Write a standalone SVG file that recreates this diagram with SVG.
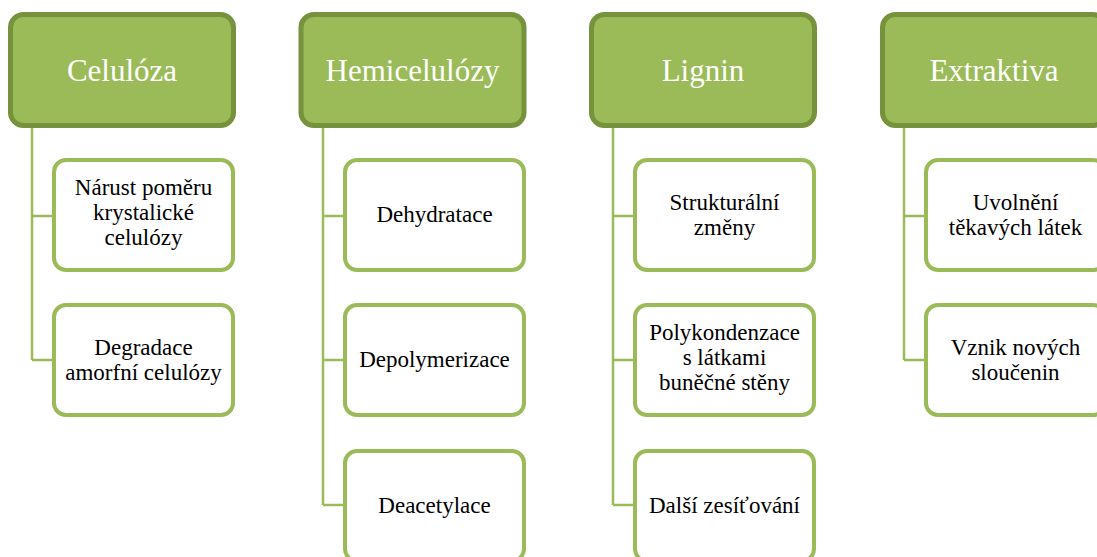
<svg xmlns="http://www.w3.org/2000/svg" width="1097" height="557" viewBox="0 0 1097 557">
<style>
.hdr{fill:#9BBB59;stroke:#76923C;stroke-width:5}
.chd{fill:#FFFFFF;stroke:#9BBB59;stroke-width:4}
.ht{font-family:"Liberation Serif","Times New Roman",serif;font-size:31px;fill:#FFFFFF;text-anchor:middle}
.ct{font-family:"Liberation Serif","Times New Roman",serif;font-size:23px;fill:#000000;text-anchor:middle}
.con{fill:none;stroke:#9BBB59;stroke-width:2.5}
</style>
<rect width="1097" height="557" fill="#FFFFFF"/>
<g id="connectors">
<path class="con" d="M32,126 V360 M32,216 H54 M32,360 H54"/>
<path class="con" d="M323,126 V505 M323,216 H345 M323,360 H345 M323,505 H345"/>
<path class="con" d="M613,126 V505 M613,216 H635 M613,360 H635 M613,505 H635"/>
<path class="con" d="M904,126 V360 M904,216 H926 M904,360 H926"/>
</g>
<g id="celuloza">
<rect class="hdr" x="10.5" y="14.5" width="223" height="111" rx="13"/>
<text class="ht" x="122" y="81">Celulóza</text>
</g>
<g id="c1">
<rect class="chd" x="54" y="160" width="179" height="110" rx="12"/>
<text class="ct" x="143.5" y="195">Nárust poměru</text>
<text class="ct" x="143.5" y="220">krystalické</text>
<text class="ct" x="143.5" y="245">celulózy</text>
</g>
<g id="c2">
<rect class="chd" x="54" y="305" width="179" height="110" rx="12"/>
<text class="ct" x="143.5" y="355">Degradace</text>
<text class="ct" x="143.5" y="380">amorfní celulózy</text>
</g>
<g id="hemicelulozy">
<rect class="hdr" x="301" y="14.5" width="223" height="111" rx="13"/>
<text class="ht" x="412.5" y="81">Hemicelulózy</text>
</g>
<g id="h1">
<rect class="chd" x="345" y="160" width="179" height="110" rx="12"/>
<text class="ct" x="434.5" y="222">Dehydratace</text>
</g>
<g id="h2">
<rect class="chd" x="345" y="305" width="179" height="110" rx="12"/>
<text class="ct" x="434.5" y="367">Depolymerizace</text>
</g>
<g id="h3">
<rect class="chd" x="345" y="451" width="179" height="110" rx="12"/>
<text class="ct" x="434.5" y="513">Deacetylace</text>
</g>
<g id="lignin">
<rect class="hdr" x="591.5" y="14.5" width="223" height="111" rx="13"/>
<text class="ht" x="703" y="81">Lignin</text>
</g>
<g id="l1">
<rect class="chd" x="635" y="160" width="179" height="110" rx="12"/>
<text class="ct" x="724.5" y="210">Strukturální</text>
<text class="ct" x="724.5" y="235">změny</text>
</g>
<g id="l2">
<rect class="chd" x="635" y="305" width="179" height="110" rx="12"/>
<text class="ct" x="724.5" y="340">Polykondenzace</text>
<text class="ct" x="724.5" y="365">s látkami</text>
<text class="ct" x="724.5" y="390">buněčné stěny</text>
</g>
<g id="l3">
<rect class="chd" x="635" y="451" width="179" height="110" rx="12"/>
<text class="ct" x="724.5" y="513">Další zesíťování</text>
</g>
<g id="extraktiva">
<rect class="hdr" x="882.5" y="14.5" width="223" height="111" rx="13"/>
<text class="ht" x="994" y="81">Extraktiva</text>
</g>
<g id="e1">
<rect class="chd" x="926" y="160" width="179" height="110" rx="12"/>
<text class="ct" x="1015.5" y="210">Uvolnění</text>
<text class="ct" x="1015.5" y="235">těkavých látek</text>
</g>
<g id="e2">
<rect class="chd" x="926" y="305" width="179" height="110" rx="12"/>
<text class="ct" x="1015.5" y="355">Vznik nových</text>
<text class="ct" x="1015.5" y="380">sloučenin</text>
</g>
</svg>
